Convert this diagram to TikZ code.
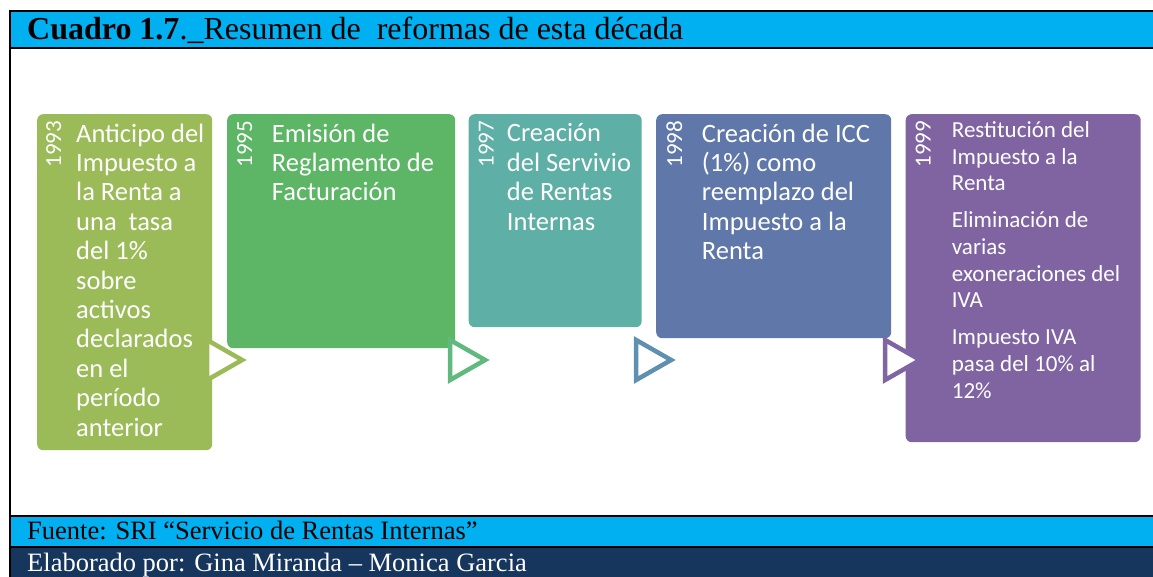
\documentclass[tikz,border=0pt]{standalone}
\usepackage{fontspec}
\setmainfont{Liberation Serif}
\newfontfamily\calibri{Carlito}
\usetikzlibrary{shapes.geometric,calc}

\definecolor{barcyan}{HTML}{00B0F0}
\definecolor{barnavy}{HTML}{17365D}
\definecolor{c93}{HTML}{9BBB59}
\definecolor{c95}{HTML}{5DB566}
\definecolor{c97}{HTML}{5EAFA6}
\definecolor{c98}{HTML}{5F78A9}
\definecolor{c99}{HTML}{8064A2}
\definecolor{f95}{HTML}{60B97F}
\definecolor{f97}{HTML}{5F90B0}
\definecolor{f98}{HTML}{7F65A3}

\begin{document}
\begin{tikzpicture}[x=1pt,y=-1pt,
    paso/.style={rounded corners=6pt, inner sep=0pt, anchor=north west},
    anio/.style={font=\calibri\fontsize{23}{23}\selectfont, text=white, rotate=90, inner sep=0pt, anchor=base east},
    texto/.style={font=\calibri\fontsize{26.5}{29.4}\selectfont, text=white, align=left, inner sep=0pt,
        anchor=north west, execute at begin node={\rule{0pt}{20pt}}},
    flecha/.style={isosceles triangle, isosceles triangle stretches, minimum width=40pt, minimum height=35pt, fill=white, line width=4.5pt, inner sep=0pt, anchor=apex}]

    \useasboundingbox (0,0) rectangle (1153,577);
    % marco del cuadro
    \fill[barcyan] (10,11) rectangle (1153,48);
    \fill[barcyan] (10,516) rectangle (1153,547);
    \fill[barnavy] (10,547) rectangle (1153,577);
    \draw[line width=2.2pt] (10,11) -- (1153,11) (10,48) -- (1153,48)
        (10,516) -- (1153,516) (10,547) -- (1153,547) (10,10) -- (10,577);

    \node[anchor=base west, inner sep=0pt, font=\fontsize{32}{32}\selectfont] (titulo) at (27,40)
        {\textbf{Cuadro 1.7}.\_Resumen de\ \ reformas de esta década};
    \node[anchor=base west, inner sep=0pt, font=\fontsize{26.5}{26.5}\selectfont] (fuente) at (27,539)
        {Fuente: SRI “Servicio de Rentas Internas”};
    \node[anchor=base west, inner sep=0pt, text=white, font=\fontsize{26.5}{26.5}\selectfont] (elaborado) at (27,571)
        {Elaborado por: Gina Miranda – Monica Garcia};

    % pasos
    \node[paso, fill=c93, minimum width=175pt, minimum height=336pt] (p93) at (37,114) {};
    \node[paso, fill=c95, minimum width=228pt, minimum height=234pt] (p95) at (227,114) {};
    \node[paso, fill=c97, minimum width=173pt, minimum height=213pt] (p97) at (468.5,114) {};
    \node[paso, fill=c98, minimum width=235pt, minimum height=224pt] (p98) at (656,114) {};
    \node[paso, fill=c99, minimum width=235pt, minimum height=328pt] (p99) at (905.5,114) {};

    \node[anio] (a93) at ($(p93.north west)+(24,6.5)$) {1993};
    \node[anio] (a95) at ($(p95.north west)+(25,6.5)$) {1995};
    \node[anio] (a97) at ($(p97.north west)+(25,6.5)$) {1997};
    \node[anio] (a98) at ($(p98.north west)+(26,6.5)$) {1998};
    \node[anio] (a99) at ($(p99.north west)+(25,6.5)$) {1999};

    \node[texto] (t93) at ($(p93.north west)+(39,9.5)$)
        {Anticipo del\\Impuesto a\\la Renta a\\una\ \ tasa\\del 1\%\\sobre\\activos\\declarados\\en el\\período\\anterior};
    \node[texto] (t95) at ($(p95.north west)+(44.7,9.5)$)
        {Emisión de\\Reglamento de\\Facturación};
    \node[texto] (t97) at ($(p97.north west)+(38.2,9.5)$)
        {Creación\\del Servivio\\de Rentas\\Internas};
    \node[texto] (t98) at ($(p98.north west)+(45.7,9.5)$)
        {Creación de ICC\\(1\%) como\\reemplazo del\\Impuesto a la\\Renta};
    \node[texto, font=\calibri\fontsize{23}{26.6}\selectfont] (t99) at ($(p99.north west)+(46.2,7.5)$)
        {Restitución del\\Impuesto a la\\Renta\\[10.5pt]Eliminación de\\varias\\exoneraciones del\\IVA\\[10.5pt]Impuesto IVA\\pasa del 10\% al\\12\%};

    % flechas entre pasos
    \node[flecha, draw=c93] (f93) at (248,360) {};
    \node[flecha, draw=f95] (f95) at (491,360) {};
    \node[flecha, draw=f97] (f97) at (677,360) {};
    \node[flecha, draw=f98] (f98) at (926,360) {};
\end{tikzpicture}
\end{document}
